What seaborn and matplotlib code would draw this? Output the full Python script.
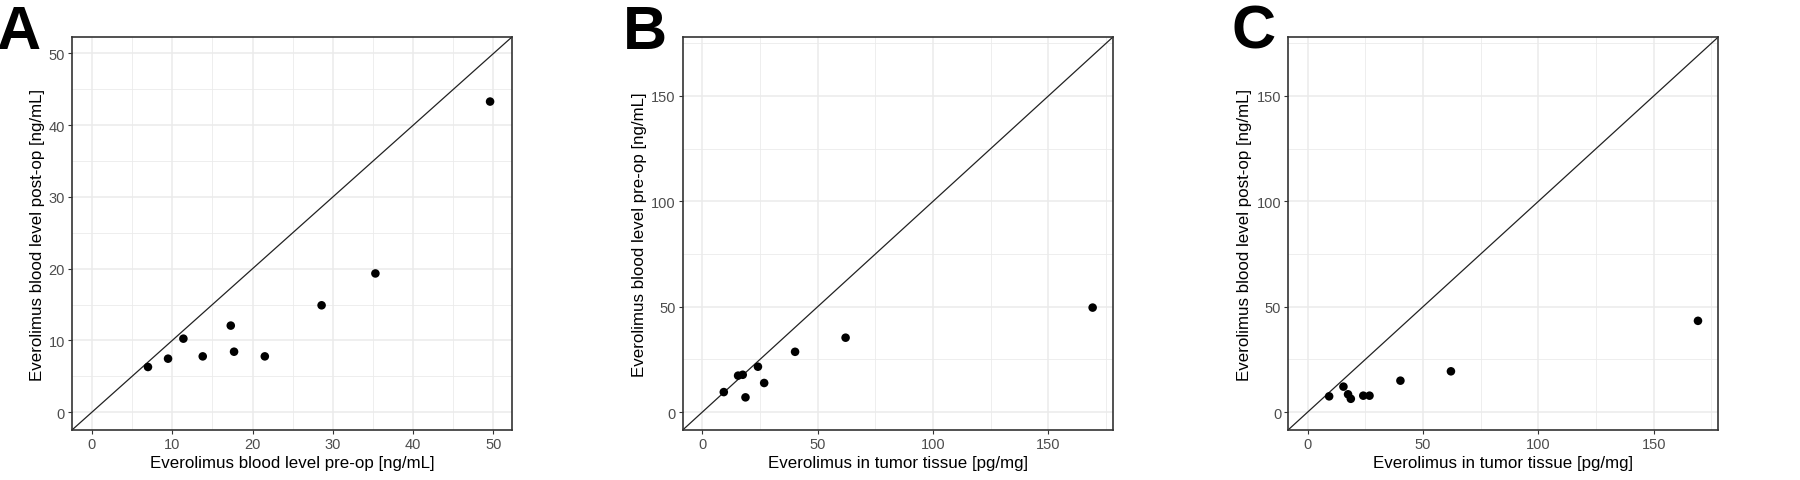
import numpy as np
import pandas as pd
import matplotlib
matplotlib.use("Agg")
import matplotlib.pyplot as plt
from matplotlib.ticker import MultipleLocator
import seaborn as sns

# Everolimus levels per patient
pre_op = [6.98, 9.48, 11.39, 13.8, 17.29, 17.7, 21.53, 28.6, 35.3, 49.58]
post_op = [6.3, 7.46, 10.25, 7.78, 12.07, 8.43, 7.78, 14.9, 19.34, 43.3]
tissue = [18.7, 9.3, np.nan, 26.8, 15.5, 17.5, 24.1, 40.2, 62.1, 169.2]

df = pd.DataFrame({"pre": pre_op, "post": post_op, "tissue": tissue})

sns.set_theme(style="whitegrid")
plt.rcParams["font.family"] = ["Liberation Sans", "DejaVu Sans"]

fig = plt.figure(figsize=(18, 4.81), dpi=100)

panels = [
    ("A", "pre", "post", "Everolimus blood level pre-op [ng/mL]",
     "Everolimus blood level post-op [ng/mL]", (-2.48, 52.3), 10, 5,
     [0.040, 0.104, 0.2444, 0.817], -0.002),
    ("B", "tissue", "pre", "Everolimus in tumor tissue [pg/mg]",
     "Everolimus blood level pre-op [ng/mL]", (-8.5, 178.0), 50, 25,
     [0.3793, 0.104, 0.239, 0.817], 0.346),
    ("C", "tissue", "post", "Everolimus in tumor tissue [pg/mg]",
     "Everolimus blood level post-op [ng/mL]", (-8.5, 178.0), 50, 25,
     [0.7156, 0.104, 0.239, 0.817], 0.684),
]

for letter, xc, yc, xlabel, ylabel, lims, major, minor, pos, lx in panels:
    ax = fig.add_axes(pos)
    sub = df.dropna(subset=[xc, yc])
    sns.scatterplot(data=sub, x=xc, y=yc, ax=ax, color="black", s=38,
                    edgecolor="none", zorder=3)
    ax.axline((0, 0), slope=1, color="#222222", lw=0.9, zorder=2)
    ax.set_xlim(lims)
    ax.set_ylim(lims)
    ax.xaxis.set_major_locator(MultipleLocator(major))
    ax.yaxis.set_major_locator(MultipleLocator(major))
    ax.xaxis.set_minor_locator(MultipleLocator(minor))
    ax.yaxis.set_minor_locator(MultipleLocator(minor))
    ax.grid(which="major", color="#EBEBEB", lw=1.1)
    ax.grid(which="minor", color="#EBEBEB", lw=0.6)
    ax.set_facecolor("white")
    for sp in ax.spines.values():
        sp.set_color("#333333")
        sp.set_linewidth(1.2)
    ax.tick_params(which="major", length=3, width=0.8, color="#333333",
                   labelsize=10.5, labelcolor="#4D4D4D", pad=2,
                   left=True, bottom=True)
    ax.tick_params(which="minor", length=0)
    ax.set_xlabel(xlabel, fontsize=12.2, color="black", labelpad=3)
    ax.set_ylabel(ylabel, fontsize=12.2, color="black", labelpad=3)
    fig.text(lx, 0.99, letter, fontsize=44, fontweight="bold",
             color="black", ha="left", va="top")

fig.savefig("out.png", dpi=100)
